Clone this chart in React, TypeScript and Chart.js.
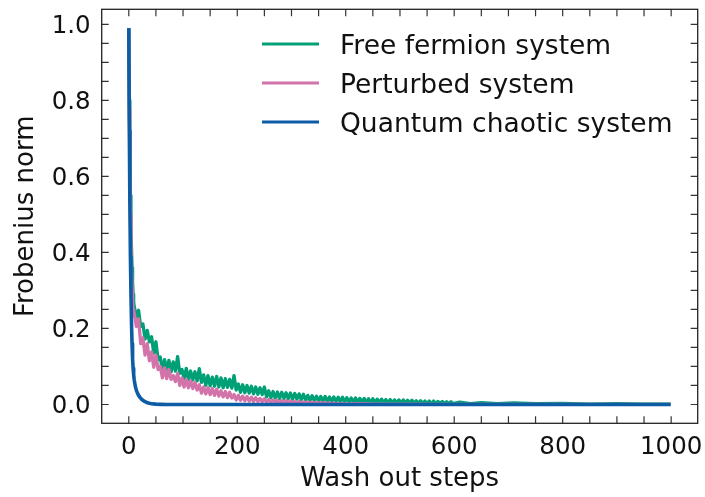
import { useEffect, useRef } from 'react';
import { Chart, registerables } from 'chart.js';

Chart.register(...registerables);

const SERIES_LABELS = ['Free fermion system', 'Perturbed system', 'Quantum chaotic system'];
const SERIES_COLORS = ['#00A077', '#D274AA', '#0C5DA5'];

const X_TICKS = [0, 200, 400, 600, 800, 1000];
const Y_TICKS = [0, 0.2, 0.4, 0.6, 0.8, 1.0];
const X_MINOR = [0, 50, 100, 150, 200, 250, 300, 350, 400, 450, 500, 550, 600, 650, 700, 750, 800, 850, 900, 950, 1000];
const Y_MINOR = [0, 0.05, 0.1, 0.15, 0.2, 0.25, 0.3, 0.35, 0.4, 0.45, 0.5, 0.55, 0.6, 0.65, 0.7, 0.75, 0.8, 0.85, 0.9, 0.95, 1.0];

// sampling grid of wash-out steps for the noisy part (every 4th step from 10)
const GRID = Array.from({ length: 148 }, (_, i) => 10 + 4 * i);

// Free fermion system
const GREEN_START_STEPS = [0, 1, 2, 3, 4, 5, 6, 7, 8, 9];
const GREEN_START = [0.99, 0.8, 0.66, 0.55, 0.47, 0.41, 0.36, 0.32, 0.29, 0.27];
const GREEN_NOISY = [
  0.258, 0.230, 0.248, 0.205, 0.212, 0.172, 0.195, 0.165, 0.178, 0.135,
  0.165, 0.118, 0.125, 0.088, 0.118, 0.090, 0.116, 0.086, 0.112, 0.088,
  0.126, 0.082, 0.092, 0.068, 0.095, 0.066, 0.088, 0.064, 0.086, 0.062,
  0.094, 0.058, 0.078, 0.050, 0.076, 0.049, 0.072, 0.048, 0.074, 0.046,
  0.070, 0.044, 0.068, 0.045, 0.066, 0.043, 0.076, 0.038, 0.054, 0.032,
  0.052, 0.031, 0.050, 0.030, 0.048, 0.028, 0.046, 0.027, 0.044, 0.026,
  0.046, 0.020, 0.036, 0.018, 0.034, 0.017, 0.033, 0.016, 0.032, 0.016,
  0.031, 0.015, 0.030, 0.014, 0.029, 0.014, 0.028, 0.013, 0.027, 0.012,
  0.024, 0.010, 0.023, 0.010, 0.022, 0.009, 0.021, 0.009, 0.021, 0.008,
  0.020, 0.008, 0.020, 0.008, 0.019, 0.007, 0.019, 0.007, 0.018, 0.006,
  0.017, 0.006, 0.017, 0.006, 0.016, 0.006, 0.016, 0.005, 0.015, 0.005,
  0.015, 0.005, 0.014, 0.005, 0.014, 0.004, 0.013, 0.004, 0.013, 0.004,
  0.012, 0.004, 0.012, 0.004, 0.012, 0.003, 0.011, 0.003, 0.011, 0.003,
  0.010, 0.003, 0.010, 0.003, 0.009, 0.003, 0.009, 0.002, 0.009, 0.002,
  0.008, 0.002, 0.008, 0.002, 0.007, 0.002, 0.007, 0.002,
];
const GREEN_TAIL_STEPS = [610, 630, 650, 680, 710, 750, 800, 850, 900, 950, 999];
const GREEN_TAIL = [0.006, 0.002, 0.005, 0.002, 0.004, 0.002, 0.003, 0.001, 0.002, 0.001, 0.001];

// Perturbed system
const PINK_START_STEPS = [0, 1, 2, 3, 4, 5, 6, 7, 8, 9];
const PINK_START = [0.99, 0.78, 0.62, 0.5, 0.42, 0.35, 0.3, 0.27, 0.25, 0.245];
const PINK_NOISY = [
  0.240, 0.205, 0.225, 0.160, 0.175, 0.130, 0.160, 0.115, 0.138, 0.098,
  0.130, 0.092, 0.100, 0.070, 0.096, 0.068, 0.092, 0.066, 0.076, 0.060,
  0.082, 0.050, 0.070, 0.046, 0.066, 0.044, 0.062, 0.042, 0.058, 0.038,
  0.052, 0.030, 0.046, 0.028, 0.044, 0.026, 0.042, 0.024, 0.040, 0.022,
  0.036, 0.020, 0.034, 0.018, 0.032, 0.017, 0.026, 0.012, 0.024, 0.011,
  0.022, 0.010, 0.021, 0.009, 0.019, 0.008, 0.018, 0.008, 0.016, 0.007,
  0.015, 0.006, 0.013, 0.006, 0.012, 0.005, 0.011, 0.005, 0.010, 0.004,
  0.010, 0.004, 0.009, 0.004, 0.008, 0.003, 0.008, 0.003, 0.007, 0.003,
  0.007, 0.002, 0.006, 0.002, 0.006, 0.002, 0.005, 0.002, 0.005, 0.002,
  0.004, 0.001, 0.004, 0.001, 0.003, 0.001, 0.003, 0.001,
];
const PINK_TAIL_STEPS = [420, 460, 500, 600, 700, 800, 999];
const PINK_TAIL = [0.002, 0.001, 0.001, 0.0005, 0.0003, 0.0002, 0.0001];

// Quantum chaotic system
const BLUE_STEPS = [0, 1, 2, 3, 4, 5, 6, 7, 8, 9, 10, 12, 14, 16, 18, 21, 24, 28, 32, 36, 40, 45, 50, 60, 70, 80, 999];
const BLUE = [0.99, 0.72, 0.53, 0.39, 0.29, 0.215, 0.16, 0.12, 0.095, 0.078, 0.065, 0.048, 0.037, 0.03, 0.024, 0.018, 0.013, 0.009, 0.006, 0.004, 0.0025, 0.0015, 0.001, 0.0004, 0.0001, 0, 0];

const pts = (xs: number[], ys: number[]) => xs.map((x, i) => ({ x, y: ys[i] }));

const FONT = 'DejaVu Sans';

const framePlugin = {
  id: 'frameTicksLegend',
  afterDatasetsDraw(chart: any) {
    const { ctx, chartArea: a, scales } = chart;
    const xs = scales.x;
    const ys = scales.y;
    ctx.save();
    ctx.strokeStyle = '#333';
    ctx.lineWidth = 1.2;
    const L = 7;
    ctx.beginPath();
    X_MINOR.forEach((v) => {
      const p = xs.getPixelForValue(v);
      if (p < a.left || p > a.right) return;
      ctx.moveTo(p, a.bottom);
      ctx.lineTo(p, a.bottom - L);
      ctx.moveTo(p, a.top);
      ctx.lineTo(p, a.top + L);
    });
    Y_MINOR.forEach((v) => {
      const p = ys.getPixelForValue(v);
      if (p < a.top || p > a.bottom) return;
      ctx.moveTo(a.left, p);
      ctx.lineTo(a.left + L, p);
      ctx.moveTo(a.right, p);
      ctx.lineTo(a.right - L, p);
    });
    ctx.stroke();
    ctx.strokeStyle = '#222';
    ctx.lineWidth = 1.3;
    ctx.strokeRect(a.left, a.top, a.right - a.left, a.bottom - a.top);

    // legend
    const x1 = a.left + 160.3;
    ctx.font = `26.5px "${FONT}"`;
    ctx.textBaseline = 'alphabetic';
    ctx.textAlign = 'left';
    chart.data.datasets.forEach((ds: any, i: number) => {
      const y = a.top + 34.7 + i * 39;
      ctx.strokeStyle = ds.borderColor;
      ctx.lineWidth = 3.2;
      ctx.lineCap = 'butt';
      ctx.beginPath();
      ctx.moveTo(x1, y);
      ctx.lineTo(x1 + 57, y);
      ctx.stroke();
      ctx.fillStyle = '#111';
      ctx.fillText(ds.label, x1 + 78, y + 10.3);
    });
    ctx.restore();
  },
};

const zeroPadding = (s: any) => {
  s.paddingTop = 0;
  s.paddingBottom = 0;
  s.paddingLeft = 0;
  s.paddingRight = 0;
};

export default function App() {
  const ref = useRef<HTMLCanvasElement | null>(null);
  useEffect(() => {
    if (!ref.current) return;
    Chart.defaults.font.family = FONT;
    const chart = new Chart(ref.current, {
      type: 'line',
      data: {
        datasets: [
          {
            label: SERIES_LABELS[0],
            data: [...pts(GREEN_START_STEPS, GREEN_START), ...pts(GRID, GREEN_NOISY), ...pts(GREEN_TAIL_STEPS, GREEN_TAIL)],
            borderColor: SERIES_COLORS[0],
            order: 2,
          },
          {
            label: SERIES_LABELS[1],
            data: [...pts(PINK_START_STEPS, PINK_START), ...pts(GRID.slice(0, PINK_NOISY.length), PINK_NOISY), ...pts(PINK_TAIL_STEPS, PINK_TAIL)],
            borderColor: SERIES_COLORS[1],
            order: 1,
          },
          {
            label: SERIES_LABELS[2],
            data: pts(BLUE_STEPS, BLUE),
            borderColor: SERIES_COLORS[2],
            borderWidth: 3.6,
            order: 0,
          },
        ],
      },
      options: {
        animation: false,
        responsive: false,
        events: [],
        elements: {
          point: { radius: 0 },
          line: { borderWidth: 3.3, tension: 0, borderJoinStyle: 'round', borderCapStyle: 'butt', fill: false },
        },
        layout: { padding: { left: 0, top: 9.3, right: 7.3, bottom: 0 } },
        plugins: { legend: { display: false }, tooltip: { enabled: false } },
        scales: {
          x: {
            type: 'linear',
            min: -49.95,
            max: 1048.95,
            grid: { display: false, drawTicks: false },
            border: { display: false },
            afterBuildTicks: (s: any) => {
              s.ticks = X_TICKS.map((v) => ({ value: v }));
            },
            afterFit: (s: any) => {
              s.height = 73.7;
              zeroPadding(s);
            },
            ticks: {
              padding: 9.3,
              color: '#111',
              maxRotation: 0,
              autoSkip: false,
              font: { size: 24.5 },
              callback: (v: any) => String(v),
            },
            title: {
              display: true,
              text: 'Wash out steps',
              color: '#111',
              font: { size: 26, lineHeight: 1 },
              padding: { top: 0, bottom: 4.7 },
            },
          },
          y: {
            type: 'linear',
            min: -0.0495,
            max: 1.0395,
            grid: { display: false, drawTicks: false },
            border: { display: false },
            afterBuildTicks: (s: any) => {
              s.ticks = Y_TICKS.map((v) => ({ value: v }));
            },
            afterFit: (s: any) => {
              s.width = 101.7;
              zeroPadding(s);
            },
            ticks: {
              padding: 11,
              labelOffset: 2.5,
              color: '#111',
              autoSkip: false,
              font: { size: 24.5 },
              callback: (v: any) => Number(v).toFixed(1),
            },
            title: {
              display: true,
              text: 'Frobenius norm',
              color: '#111',
              font: { size: 26, lineHeight: 1 },
              padding: { top: 13.7, bottom: 0 },
            },
          },
        },
      },
      plugins: [framePlugin],
    });
    return () => chart.destroy();
  }, []);
  return (
    <div style={{ position: 'absolute', left: 0, top: 0, width: 705, height: 497, background: '#fff' }}>
      <canvas ref={ref} width={705} height={497} style={{ display: 'block' }} />
    </div>
  );
}
